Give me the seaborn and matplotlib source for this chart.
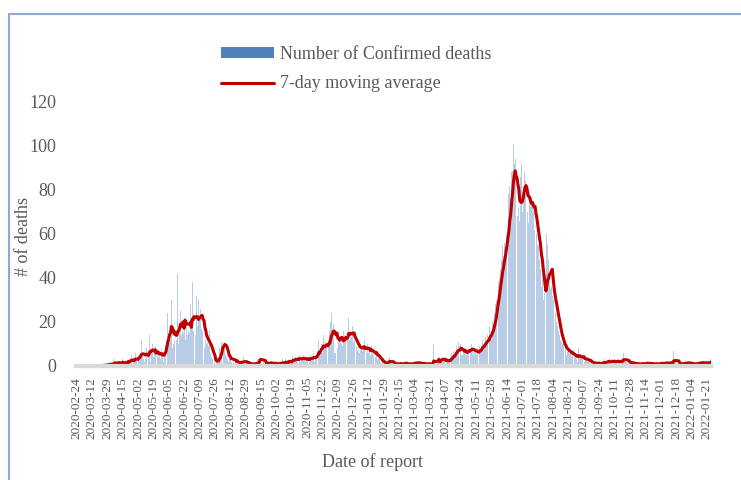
import numpy as np
import pandas as pd
import matplotlib
matplotlib.use("Agg")
import matplotlib.pyplot as plt
import seaborn as sns
from matplotlib.patches import Patch
from matplotlib.lines import Line2D

# ---- data (daily confirmed deaths, starting 2020-02-24, one row per week) ----
start_date = "2020-02-24"
weekly_deaths = [
    [0, 0, 0, 0, 0, 0, 0], [0, 0, 0, 0, 0, 0, 0], [0, 0, 0, 0, 0, 0, 0],
    [0, 0, 0, 0, 0, 1, 0], [0, 1, 0, 0, 1, 0, 1], [1, 0, 2, 1, 0, 1, 2],
    [3, 1, 0, 2, 1, 2, 1], [2, 1, 3, 0, 1, 2, 2], [2, 4, 1, 3, 2, 5, 1],
    [3, 2, 6, 3, 2, 4, 5], [5, 6, 12, 4, 3, 2, 3], [8, 5, 9, 4, 14, 2, 7],
    [10, 4, 6, 9, 3, 7, 6], [4, 6, 3, 8, 5, 2, 7], [9, 12, 18, 24, 14, 16, 12],
    [30, 8, 10, 12, 20, 6, 12], [42, 10, 18, 25, 14, 16, 15], [22, 36, 12, 18, 14, 16, 15],
    [28, 20, 38, 16, 24, 14, 14], [32, 18, 30, 22, 26, 17, 16], [20, 14, 8, 12, 10, 11, 9],
    [16, 6, 4, 3, 2, 2, 2], [1, 2, 4, 3, 8, 6, 11], [12, 16, 7, 9, 5, 4, 3],
    [2, 3, 5, 2, 4, 3, 2], [1, 2, 1, 3, 1, 1, 1], [3, 2, 1, 4, 2, 1, 1],
    [1, 0, 2, 1, 1, 1, 1], [0, 1, 2, 1, 3, 1, 2], [10, 2, 1, 1, 2, 0, 1],
    [2, 1, 2, 1, 0, 3, 1], [1, 1, 0, 2, 1, 1, 1], [1, 2, 1, 1, 3, 0, 2],
    [3, 1, 2, 2, 1, 4, 1], [2, 5, 3, 2, 4, 3, 2], [4, 3, 5, 2, 4, 3, 4],
    [3, 2, 4, 3, 2, 5, 2], [5, 3, 4, 6, 2, 4, 4], [6, 9, 12, 5, 8, 10, 6],
    [14, 8, 11, 9, 10, 6, 12], [16, 20, 24, 14, 19, 6, 6], [10, 26, 8, 14, 12, 11, 10],
    [9, 16, 14, 11, 20, 8, 13], [22, 12, 16, 13, 18, 11, 13], [10, 8, 9, 7, 12, 6, 8],
    [9, 7, 8, 12, 6, 8, 6], [10, 6, 8, 5, 9, 6, 5], [6, 5, 4, 7, 3, 4, 3],
    [2, 1, 2, 1, 2, 1, 1], [1, 2, 3, 4, 2, 1, 1], [1, 0, 1, 2, 1, 1, 1],
    [0, 1, 2, 1, 1, 1, 1], [2, 1, 1, 0, 1, 1, 1], [1, 2, 1, 2, 1, 2, 1],
    [1, 1, 2, 1, 1, 1, 1], [1, 1, 0, 1, 2, 1, 1], [1, 1, 0, 10, 1, 0, 1],
    [2, 4, 3, 2, 5, 3, 2], [3, 2, 1, 4, 2, 3, 2], [3, 4, 6, 5, 7, 4, 6],
    [9, 7, 11, 6, 8, 10, 5], [5, 7, 6, 8, 5, 7, 7], [9, 6, 8, 10, 7, 5, 7],
    [6, 5, 8, 7, 6, 9, 8], [9, 12, 10, 8, 13, 11, 14], [12, 14, 18, 13, 16, 20, 19],
    [24, 28, 30, 35, 36, 38, 40], [44, 48, 55, 50, 56, 52, 59], [64, 70, 78, 82, 76, 88, 88],
    [101, 92, 94, 66, 70, 68, 72], [66, 86, 92, 70, 82, 88, 84], [72, 78, 70, 65, 80, 76, 77],
    [75, 70, 62, 68, 58, 60, 55], [55, 48, 44, 36, 42, 30, 33], [28, 26, 60, 55, 48, 42, 35],
    [36, 32, 30, 28, 26, 24, 20], [18, 16, 14, 12, 11, 10, 10], [8, 6, 9, 5, 7, 8, 6],
    [6, 4, 5, 6, 4, 5, 5], [3, 2, 8, 5, 4, 3, 3], [4, 3, 2, 4, 3, 3, 2],
    [2, 1, 2, 1, 1, 2, 1], [1, 1, 2, 1, 1, 1, 1], [2, 1, 3, 2, 1, 2, 2],
    [2, 3, 1, 2, 2, 3, 1], [3, 2, 2, 1, 3, 2, 2], [2, 3, 2, 6, 3, 2, 2],
    [1, 2, 1, 2, 1, 2, 1], [1, 1, 1, 0, 2, 1, 1], [1, 0, 1, 2, 1, 1, 1],
    [1, 2, 1, 1, 1, 1, 1], [1, 1, 1, 1, 0, 2, 1], [1, 1, 2, 1, 1, 1, 1],
    [2, 2, 1, 1, 1, 2, 1], [1, 2, 7, 3, 2, 1, 1], [1, 1, 1, 1, 1, 1, 1],
    [2, 1, 2, 1, 2, 1, 1], [1, 1, 1, 1, 1, 1, 1], [1, 2, 1, 2, 1, 2, 1],
    [2, 1, 1, 2, 1, 2, 1], [2, 3],
]

tick_labels = [
    "2020-02-24", "2020-03-12", "2020-03-29", "2020-04-15", "2020-05-02", "2020-05-19",
    "2020-06-05", "2020-06-22", "2020-07-09", "2020-07-26", "2020-08-12", "2020-08-29",
    "2020-09-15", "2020-10-02", "2020-10-19", "2020-11-05", "2020-11-22", "2020-12-09",
    "2020-12-26", "2021-01-12", "2021-01-29", "2021-02-15", "2021-03-04", "2021-03-21",
    "2021-04-07", "2021-04-24", "2021-05-11", "2021-05-28", "2021-06-14", "2021-07-01",
    "2021-07-18", "2021-08-04", "2021-08-21", "2021-09-07", "2021-09-24", "2021-10-11",
    "2021-10-28", "2021-11-14", "2021-12-01", "2021-12-18", "2022-01-04", "2022-01-21",
]
y_ticks = [0, 20, 40, 60, 80, 100, 120]

# ---- build table ----
deaths = [v for week in weekly_deaths for v in week]
n = len(deaths)
dates = pd.date_range(start_date, periods=n, freq="D").strftime("%Y-%m-%d")
df = pd.DataFrame({"date": dates, "deaths": deaths})
df["pos"] = np.arange(n)
df["ma7"] = df["deaths"].rolling(7, min_periods=1).mean()

# ---- style ----
sns.set_style("white")
plt.rcParams["font.family"] = ["Liberation Serif", "DejaVu Serif"]
text_color = "#595959"

fig = plt.figure(figsize=(7.41, 4.80), dpi=100)
W, H = 741, 480
ax = fig.add_axes([76 / W, 1 - 366 / H, (711 - 76) / W, (366 - 102) / H])

sns.barplot(data=df, x="date", y="deaths", color="#b9cce6", saturation=1,
            width=0.9, errorbar=None, linewidth=0, ax=ax)
sns.lineplot(data=df, x="pos", y="ma7", color="#c00000", linewidth=2.2, ax=ax)

ax.set_xlim(-0.5, n - 0.5)
ax.set_ylim(0, 120)
ax.set_yticks(y_ticks)
ax.set_yticklabels([str(t) for t in y_ticks], fontsize=13, color=text_color)
ax.set_xticks(np.arange(0, n, 17)[:len(tick_labels)])
ax.set_xticklabels(tick_labels, rotation=90, fontsize=9.5, color=text_color)
ax.tick_params(axis="y", length=0, pad=14)
ax.tick_params(axis="x", length=0, pad=8)

for s in ["top", "right", "left"]:
    ax.spines[s].set_visible(False)
ax.spines["bottom"].set_color("#d9d9d9")
ax.spines["bottom"].set_linewidth(3)

ax.set_xlabel("")
ax.set_ylabel("")
fig.text(372 / W, 1 - 462 / H, "Date of report", ha="center", va="center",
         fontsize=13, color=text_color)
fig.text(24 / W, 1 - 236 / H, "# of deaths", ha="center", va="center",
         rotation=90, fontsize=13, color=text_color)

handles = [Patch(facecolor="#4f81bd", edgecolor="none"),
           Line2D([0], [0], color="#c00000", linewidth=2.2)]
fig.legend(handles, ["Number of Confirmed deaths", "7-day moving average"],
           loc="upper left", bbox_to_anchor=(221 / W, 1 - 46 / H), frameon=False,
           fontsize=13, handlelength=2.95, handleheight=0.5, handletextpad=0.3,
           labelspacing=0.68, borderpad=0, borderaxespad=0, labelcolor=text_color)

# outer frame (left and top border)
frame_color = "#8fa9d6"
fig.add_artist(Line2D([8.5 / W, 8.5 / W], [0, 1 - 13.5 / H], color=frame_color,
                      linewidth=1.5, transform=fig.transFigure))
fig.add_artist(Line2D([8.5 / W, 1], [1 - 13.5 / H, 1 - 13.5 / H], color=frame_color,
                      linewidth=1.5, transform=fig.transFigure))

fig.savefig("out.png", dpi=100)
